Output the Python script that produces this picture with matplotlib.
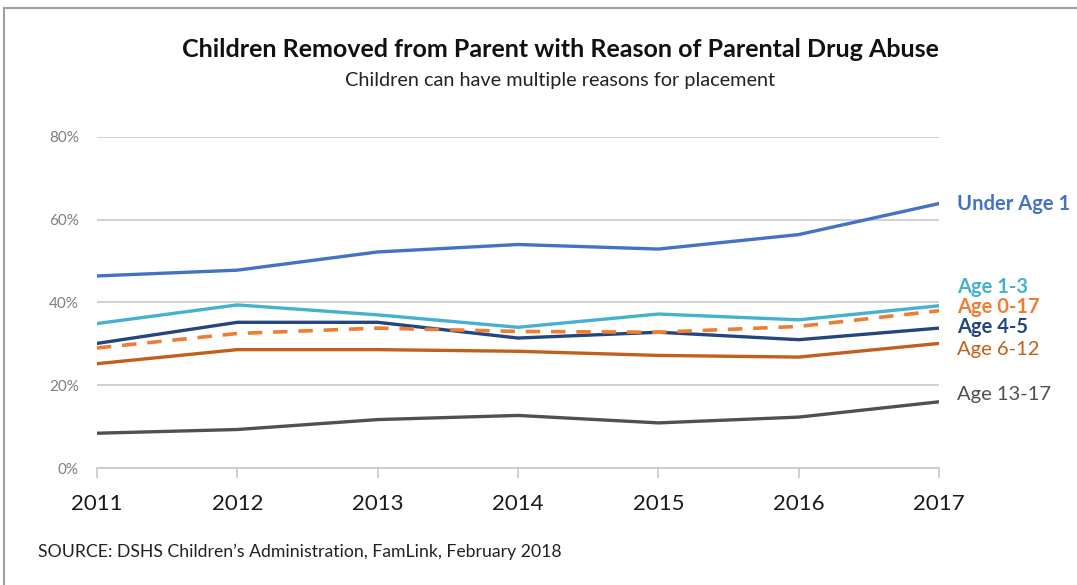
import matplotlib.pyplot as plt
from matplotlib.lines import Line2D

plt.rcParams['font.family'] = ['Lato', 'DejaVu Sans']

# Data (percent of children removed)
years = [2011, 2012, 2013, 2014, 2015, 2016, 2017]
under_1 = [46.4, 47.8, 52.2, 54.0, 52.9, 56.4, 63.9]
age_1_3 = [34.9, 39.4, 37.0, 34.0, 37.2, 35.8, 39.2]
age_0_17 = [29.0, 32.5, 33.8, 33.0, 32.8, 34.2, 38.0]
age_4_5 = [30.1, 35.2, 35.2, 31.4, 32.8, 31.0, 33.8]
age_6_12 = [25.2, 28.6, 28.6, 28.2, 27.2, 26.8, 30.1]
age_13_17 = [8.4, 9.3, 11.7, 12.7, 10.9, 12.3, 16.0]

yticks = [0, 20, 40, 60, 80]

series = [
    ('Under Age 1', under_1, '#4472C4', '-', 'bold', 63.9),
    ('Age 1-3', age_1_3, '#45B1CE', '-', 'bold', 43.8),
    ('Age 0-17', age_0_17, '#ED7D31', '--', 'bold', 39.0),
    ('Age 4-5', age_4_5, '#24467F', '-', 'bold', 34.0),
    ('Age 6-12', age_6_12, '#C0601A', '-', 'normal', 28.7),
    ('Age 13-17', age_13_17, '#505050', '-', 'normal', 17.7),
]

fig = plt.figure(figsize=(10.77, 5.85), dpi=100)
ax = fig.add_axes([0.090, 0.20, 0.782, 0.566])

# draw order: gray first, dashed total on top
for name, vals, color, ls, weight, ly in reversed(series):
    if ls == '--':
        ax.plot(years, vals, color=color, lw=2.6, ls=(0, (4, 3)), zorder=4)
    else:
        ax.plot(years, vals, color=color, lw=2.4, zorder=3)
    ax.text(2017.13, ly, name, color=color, fontsize=14.5, fontweight=weight,
            va='center', ha='left', clip_on=False)

ax.set_xlim(2011, 2017)
ax.set_ylim(0, 80)
ax.set_yticks(yticks)
ax.set_yticklabels([f'{v}%' for v in yticks], color='#7f7f7f', fontsize=11)
ax.set_xticks(years)
ax.set_xticklabels([str(y) for y in years], fontsize=16, color='#1a1a1a')
ax.grid(axis='y', color='#c8c8c8', lw=1.2)
ax.set_axisbelow(True)
for s in ['top', 'right', 'left']:
    ax.spines[s].set_visible(False)
ax.spines['bottom'].set_color('#c8c8c8')
ax.spines['bottom'].set_linewidth(1.2)
ax.tick_params(axis='y', length=0, pad=13)
ax.tick_params(axis='x', length=7, color='#c8c8c8', width=1.2, pad=12)

fig.text(0.52, 0.915, 'Children Removed from Parent with Reason of Parental Drug Abuse',
         ha='center', va='center', fontsize=18, fontweight='bold', color='#111111')
fig.text(0.52, 0.862, 'Children can have multiple reasons for placement',
         ha='center', va='center', fontsize=14.3, color='#222222')
fig.text(0.035, 0.057, 'SOURCE: DSHS Children\u2019s Administration, FamLink, February 2018',
         ha='left', va='center', fontsize=12.7, color='#222222')

# frame edges visible at top and left
fig.add_artist(Line2D([0.004, 1.0], [0.986, 0.986], color='#a0a0a0', lw=1.5))
fig.add_artist(Line2D([0.004, 0.004], [0.0, 0.986], color='#a0a0a0', lw=1.5))

fig.savefig('out.png', dpi=100)
